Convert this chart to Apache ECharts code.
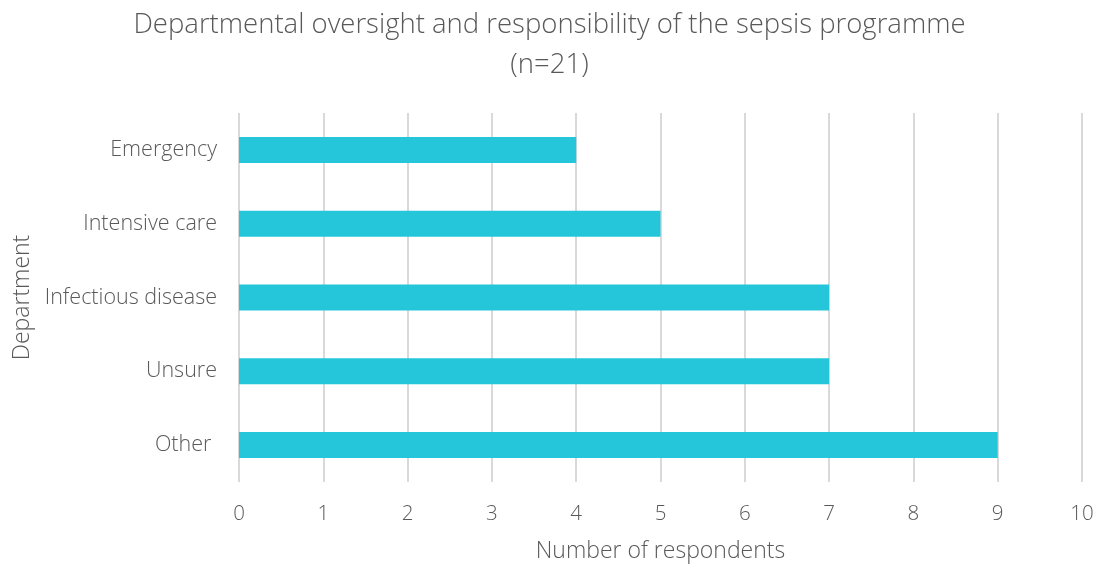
<!DOCTYPE html>
<html>
<head>
<meta charset="utf-8">
<script src="https://cdn.jsdelivr.net/npm/echarts@6/dist/echarts.min.js"></script>
<style>
  html, body { margin: 0; padding: 0; background: #fff; }
  #chart { width: 1099px; height: 568px; }
</style>
</head>
<body>
<div id="chart"></div>
<script>
// Departments, listed bottom to top as the category axis draws them
const departments = ['Other ', 'Unsure', 'Infectious disease', 'Intensive care', 'Emergency'];
const respondents = [9, 7, 7, 5, 4];
const xTicks = [0, 1, 2, 3, 4, 5, 6, 7, 8, 9, 10];

const FONT = '"Open Sans", "Noto Sans", sans-serif';
const TEXT = '#595959';

const chart = echarts.init(document.getElementById('chart'));
chart.setOption({
  animation: false,
  title: {
    text: 'Departmental oversight and responsibility of the sepsis programme\n(n=21)',
    left: 'center',
    top: 0,
    textStyle: {
      fontFamily: FONT,
      fontWeight: 300,
      fontSize: 27.5,
      color: TEXT,
      lineHeight: 40
    }
  },
  grid: { left: 239, right: 17, top: 113, bottom: 85, containLabel: false },
  xAxis: {
    type: 'value',
    min: xTicks[0],
    max: xTicks[xTicks.length - 1],
    interval: 1,
    name: 'Number of respondents',
    nameLocation: 'middle',
    nameGap: 58,
    nameTextStyle: { fontFamily: FONT, fontWeight: 300, fontSize: 23, color: TEXT },
    axisLine: { show: false },
    axisTick: { show: false },
    axisLabel: { fontFamily: FONT, fontWeight: 300, fontSize: 20.5, color: TEXT, margin: 22 },
    splitLine: { show: true, lineStyle: { color: '#d9d9d9', width: 2 } }
  },
  yAxis: {
    type: 'category',
    data: departments,
    name: 'Department',
    nameLocation: 'middle',
    nameGap: 204,
    nameRotate: 90,
    nameTextStyle: { fontFamily: FONT, fontWeight: 300, fontSize: 23, color: TEXT },
    axisLine: { show: false },
    axisTick: { show: false },
    axisLabel: { fontFamily: FONT, fontWeight: 300, fontSize: 21.5, color: TEXT, margin: 22 },
    splitLine: { show: false }
  },
  series: [{
    type: 'bar',
    data: respondents,
    barWidth: 26,
    itemStyle: { color: '#26C6DA' }
  }]
});
</script>
</body>
</html>
